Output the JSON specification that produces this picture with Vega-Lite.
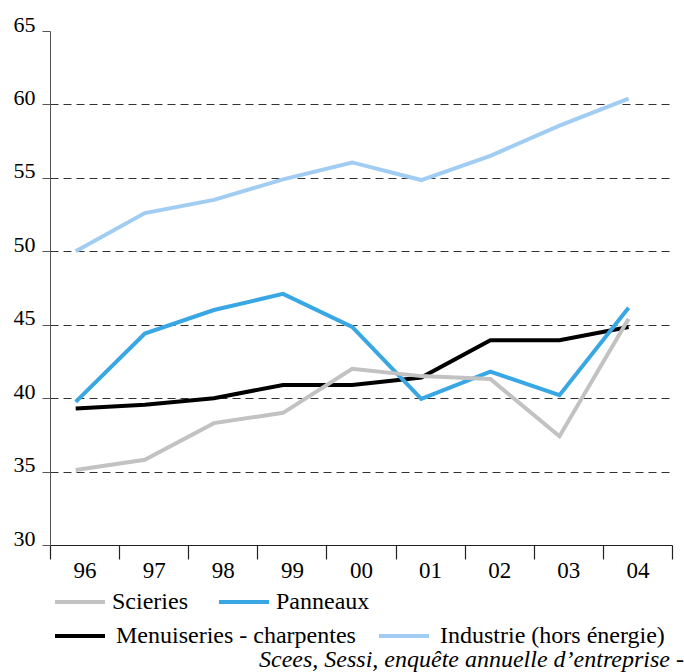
{
  "$schema": "https://vega.github.io/schema/vega-lite/v6.json",
  "autosize": "none",
  "width": 622,
  "height": 514,
  "padding": {"left": 50, "top": 31, "right": 12, "bottom": 127},
  "background": "white",
  "title": {
    "text": "Scees, Sessi, enquête annuelle d’entreprise -",
    "orient": "bottom",
    "anchor": "end",
    "frame": "group",
    "font": "Liberation Serif",
    "fontStyle": "italic",
    "fontWeight": "normal",
    "fontSize": 24,
    "color": "#000000",
    "dx": 12,
    "offset": 0
  },
  "config": {
    "view": {"stroke": null},
    "font": "Liberation Serif",
    "axis": {"labelFont": "Liberation Serif", "labelFontWeight": "normal"},
    "legend": {"labelFont": "Liberation Serif", "labelFontWeight": "normal"}
  },
  "data": {
    "values": [
      {"year": 1996, "serie": "Industrie (hors énergie)", "value": 50.0},
      {"year": 1997, "serie": "Industrie (hors énergie)", "value": 52.6},
      {"year": 1998, "serie": "Industrie (hors énergie)", "value": 53.5},
      {"year": 1999, "serie": "Industrie (hors énergie)", "value": 54.9},
      {"year": 2000, "serie": "Industrie (hors énergie)", "value": 56.05},
      {"year": 2001, "serie": "Industrie (hors énergie)", "value": 54.85},
      {"year": 2002, "serie": "Industrie (hors énergie)", "value": 56.5},
      {"year": 2003, "serie": "Industrie (hors énergie)", "value": 58.55},
      {"year": 2004, "serie": "Industrie (hors énergie)", "value": 60.4},
      {"year": 1996, "serie": "Menuiseries - charpentes", "value": 39.3},
      {"year": 1997, "serie": "Menuiseries - charpentes", "value": 39.55},
      {"year": 1998, "serie": "Menuiseries - charpentes", "value": 40.0},
      {"year": 1999, "serie": "Menuiseries - charpentes", "value": 40.9},
      {"year": 2000, "serie": "Menuiseries - charpentes", "value": 40.9},
      {"year": 2001, "serie": "Menuiseries - charpentes", "value": 41.4},
      {"year": 2002, "serie": "Menuiseries - charpentes", "value": 43.95},
      {"year": 2003, "serie": "Menuiseries - charpentes", "value": 43.95},
      {"year": 2004, "serie": "Menuiseries - charpentes", "value": 44.85},
      {"year": 1996, "serie": "Panneaux", "value": 39.75},
      {"year": 1997, "serie": "Panneaux", "value": 44.4},
      {"year": 1998, "serie": "Panneaux", "value": 46.0},
      {"year": 1999, "serie": "Panneaux", "value": 47.1},
      {"year": 2000, "serie": "Panneaux", "value": 44.85},
      {"year": 2001, "serie": "Panneaux", "value": 39.95},
      {"year": 2002, "serie": "Panneaux", "value": 41.8},
      {"year": 2003, "serie": "Panneaux", "value": 40.2},
      {"year": 2004, "serie": "Panneaux", "value": 46.15},
      {"year": 1996, "serie": "Scieries", "value": 35.1},
      {"year": 1997, "serie": "Scieries", "value": 35.8},
      {"year": 1998, "serie": "Scieries", "value": 38.3},
      {"year": 1999, "serie": "Scieries", "value": 39.0},
      {"year": 2000, "serie": "Scieries", "value": 42.0},
      {"year": 2001, "serie": "Scieries", "value": 41.5},
      {"year": 2002, "serie": "Scieries", "value": 41.3},
      {"year": 2003, "serie": "Scieries", "value": 37.4},
      {"year": 2004, "serie": "Scieries", "value": 45.4}
    ]
  },
  "encoding": {
    "x": {
      "field": "year",
      "type": "quantitative",
      "scale": {"domain": [1995.628, 2004.628], "nice": false, "zero": false},
      "axis": {
        "title": null,
        "values": [1995.628, 1996.628, 1997.628, 1998.628, 1999.628, 2000.628, 2001.628, 2002.628, 2003.628, 2004.628],
        "labelExpr": "datum.value > 2004 ? '' : slice(toString(round(datum.value + 0.5)), 2)",
        "labelOffset": 34.55,
        "labelFlush": false,
        "labelOverlap": false,
        "labelBound": false,
        "labelFont": "Liberation Serif",
        "labelFontSize": 23,
        "labelColor": "#000000",
        "labelBaseline": "alphabetic",
        "labelPadding": 18,
        "tickSize": 14,
        "tickColor": "#222222",
        "tickWidth": 1.2,
        "domainColor": "#222222",
        "domainWidth": 1.2,
        "grid": false
      }
    },
    "y": {
      "field": "value",
      "type": "quantitative",
      "scale": {"domain": [30, 65], "nice": false, "zero": false},
      "axis": {
        "title": null,
        "values": [30, 35, 40, 45, 50, 55, 60, 65],
        "labelFont": "Liberation Serif",
        "labelFontSize": 22,
        "labelColor": "#000000",
        "labelBaseline": "alphabetic",
        "labelPadding": 7,
        "tickSize": 8,
        "tickColor": "#555555",
        "domainColor": "#555555",
        "grid": true,
        "gridColor": "#333333",
        "gridDash": [8, 5],
        "gridWidth": 1,
        "gridOpacity": {"condition": {"test": "datum.value >= 65 || datum.value <= 30", "value": 0}, "value": 1}
      }
    }
  },
  "layer": [
    {
      "transform": [{"filter": "datum.serie == 'Menuiseries - charpentes' || datum.serie == 'Industrie (hors énergie)'"}],
      "mark": {"type": "line", "strokeWidth": 4, "strokeCap": "butt", "strokeJoin": "miter"},
      "encoding": {
        "stroke": {
          "field": "serie",
          "type": "nominal",
          "scale": {
            "domain": ["Menuiseries - charpentes", "Industrie (hors énergie)"],
            "range": ["#000000", "#a0cdf1"]
          },
          "legend": {
            "title": null,
            "orient": "none",
            "legendX": 3,
            "legendY": 578,
            "direction": "horizontal",
            "columnPadding": 15,
            "padding": 0,
            "symbolType": "stroke",
            "symbolSize": 2500,
            "symbolStrokeWidth": 4,
            "labelFont": "Liberation Serif",
            "labelFontSize": 24,
            "labelColor": "#000000",
            "labelOffset": 9,
            "labelLimit": 400
          }
        }
      }
    },
    {
      "transform": [{"filter": "datum.serie == 'Scieries' || datum.serie == 'Panneaux'"}],
      "mark": {"type": "line", "strokeWidth": 4, "strokeCap": "butt", "strokeJoin": "miter"},
      "encoding": {
        "color": {
          "field": "serie",
          "type": "nominal",
          "scale": {
            "domain": ["Scieries", "Panneaux"],
            "range": ["#c2c2c2", "#38a7e4"]
          },
          "legend": {
            "title": null,
            "orient": "none",
            "legendX": 3,
            "legendY": 544,
            "direction": "horizontal",
            "columnPadding": 23,
            "padding": 0,
            "symbolType": "stroke",
            "symbolSize": 2500,
            "symbolStrokeWidth": 4,
            "labelFont": "Liberation Serif",
            "labelFontSize": 24,
            "labelColor": "#000000",
            "labelOffset": 5,
            "labelLimit": 400
          }
        }
      }
    }
  ]
}
